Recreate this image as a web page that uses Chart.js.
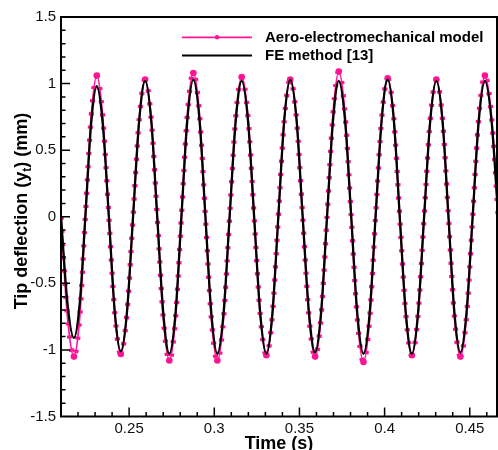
<!DOCTYPE html>
<html>
<head>
<meta charset="utf-8">
<script src="https://cdn.jsdelivr.net/npm/chart.js@4.4.1/dist/chart.umd.min.js"></script>
<style>
  html, body { margin: 0; padding: 0; background: #fff; }
</style>
</head>
<body>
<canvas id="tipChart" width="498" height="450"></canvas>
<script>
// time (s): zero crossings, half-way points and extremes
const time = [
  0.2100, 0.2138, 0.2176,
  0.2210, 0.2243, 0.2277, 0.2310,
  0.2345, 0.2381, 0.2416, 0.2451,
  0.2487, 0.2523, 0.2559, 0.2594,
  0.2630, 0.2665, 0.2701, 0.2736,
  0.2772, 0.2807, 0.2842, 0.2877,
  0.2913, 0.2948, 0.2983, 0.3018,
  0.3054, 0.3090, 0.3126, 0.3161,
  0.3198, 0.3234, 0.3270, 0.3306,
  0.3341, 0.3376, 0.3411, 0.3446,
  0.3483, 0.3519, 0.3556, 0.3592,
  0.3627, 0.3662, 0.3697, 0.3731,
  0.3768, 0.3804, 0.3840, 0.3876,
  0.3912, 0.3947, 0.3983, 0.4018,
  0.4054, 0.4089, 0.4125, 0.4160,
  0.4196, 0.4232, 0.4268, 0.4304,
  0.4340, 0.4375, 0.4410, 0.4445,
  0.4481, 0.4517, 0.4553, 0.4589,
  0.4628, 0.4667, 0.4706
];

// tip deflection (mm)
const aeroModel = [
  0, -0.75, -1.05,
  -0.75, 0, 0.75, 1.06,
  0.75, 0, -0.73, -1.03,
  -0.73, 0, 0.73, 1.03,
  0.73, 0, -0.77, -1.08,
  -0.77, 0, 0.77, 1.08,
  0.77, 0, -0.77, -1.08,
  -0.77, 0, 0.75, 1.05,
  0.75, 0, -0.74, -1.04,
  -0.74, 0, 0.73, 1.03,
  0.73, 0, -0.75, -1.05,
  -0.75, 0, 0.77, 1.09,
  0.77, 0, -0.77, -1.09,
  -0.77, 0, 0.74, 1.04,
  0.74, 0, -0.74, -1.04,
  -0.74, 0, 0.73, 1.03,
  0.73, 0, -0.75, -1.05,
  -0.75, 0, 0.75, 1.06,
  0.75, 0, -0.75
];

const feMethod = [
  0, -0.65, -0.91,
  -0.65, 0, 0.70, 0.98,
  0.70, 0, -0.72, -1.01,
  -0.72, 0, 0.72, 1.02,
  0.72, 0, -0.73, -1.03,
  -0.73, 0, 0.73, 1.03,
  0.73, 0, -0.73, -1.03,
  -0.73, 0, 0.72, 1.02,
  0.72, 0, -0.73, -1.03,
  -0.73, 0, 0.73, 1.03,
  0.73, 0, -0.72, -1.02,
  -0.72, 0, 0.72, 1.02,
  0.72, 0, -0.73, -1.03,
  -0.73, 0, 0.73, 1.03,
  0.73, 0, -0.73, -1.03,
  -0.73, 0, 0.72, 1.02,
  0.72, 0, -0.72, -1.02,
  -0.72, 0, 0.72, 1.02,
  0.72, 0, -0.72
];

const xTicks = [0.25, 0.3, 0.35, 0.4, 0.45];
const yTicks = [-1.5, -1, -0.5, 0, 0.5, 1, 1.5];
const seriesNames = ['Aero-electromechanical model', 'FE method [13]'];

const PINK = '#ff1493';
const FONT = "'Liberation Sans', Arial, Helvetica, sans-serif";

function toPoints(values) {
    return time.map((t, i) => ({ x: t, y: values[i] }));
}

// frame, inward ticks, legend box and axis titles
const decorPlugin = {
    id: 'decor',
    afterDraw(chart) {
        const { ctx, chartArea: a, scales } = chart;
        const xs = scales.x, ys = scales.y;
        ctx.save();
        ctx.strokeStyle = '#000';

        // ticks
        ctx.lineWidth = 1.5;
        ctx.beginPath();
        for (let k = 22; k <= 46; k++) {
            const px = xs.getPixelForValue(k / 100);
            const len = (k % 5 === 0) ? 9 : 4.5;
            ctx.moveTo(px, a.bottom);
            ctx.lineTo(px, a.bottom - len);
        }
        for (let k = -14; k <= 14; k++) {
            const py = ys.getPixelForValue(k / 10);
            const len = (k % 5 === 0) ? 9 : 4.5;
            ctx.moveTo(a.left, py);
            ctx.lineTo(a.left + len, py);
        }
        ctx.stroke();

        // frame
        ctx.lineWidth = 2;
        ctx.strokeRect(a.left, a.top, a.right - a.left, a.bottom - a.top);

        // legend
        const rows = [
            { y: 37.3, color: PINK, width: 1.8, marker: true, text: seriesNames[0] },
            { y: 55.5, color: '#000', width: 2.2, marker: false, text: seriesNames[1] }
        ];
        ctx.font = 'bold 15px ' + FONT;
        ctx.textBaseline = 'middle';
        ctx.textAlign = 'left';
        rows.forEach(r => {
            ctx.strokeStyle = r.color;
            ctx.lineWidth = r.width;
            ctx.beginPath();
            ctx.moveTo(182, r.y);
            ctx.lineTo(252, r.y);
            ctx.stroke();
            if (r.marker) {
                ctx.fillStyle = r.color;
                ctx.beginPath();
                ctx.arc(217, r.y, 2.2, 0, Math.PI * 2);
                ctx.fill();
            }
            ctx.fillStyle = '#000';
            ctx.fillText(r.text, 265, r.y + 0.5);
        });

        // x title
        ctx.font = 'bold 18px ' + FONT;
        ctx.textAlign = 'center';
        ctx.textBaseline = 'alphabetic';
        ctx.fillText('Time (s)', (a.left + a.right) / 2, 449);

        // y title with subscript t
        ctx.translate(27, 211);
        ctx.rotate(-Math.PI / 2);
        const big = 'bold 18px ' + FONT, small = 'bold 12px ' + FONT;
        const p1 = 'Tip deflection (y', p2 = 't', p3 = ') (mm)';
        ctx.font = big;
        const w1 = ctx.measureText(p1).width, w3 = ctx.measureText(p3).width;
        ctx.font = small;
        const w2 = ctx.measureText(p2).width;
        let x0 = -(w1 + w2 + w3) / 2;
        ctx.textAlign = 'left';
        ctx.font = big;
        ctx.fillText(p1, x0, 0);
        ctx.font = small;
        ctx.fillText(p2, x0 + w1, 4);
        ctx.font = big;
        ctx.fillText(p3, x0 + w1 + w2, 0);
        ctx.restore();
    }
};

const ctx = document.getElementById('tipChart').getContext('2d');
const chart = new Chart(ctx, {
    type: 'line',
    data: {
        datasets: [{
            label: seriesNames[1],
            data: toPoints(feMethod),
            borderColor: '#000',
            borderWidth: 2.3,
            pointRadius: 0,
            cubicInterpolationMode: 'monotone'
        }, {
            label: seriesNames[0] + ' markers',
            data: toPoints(aeroModel),
            borderColor: PINK,
            borderWidth: 5.2,
            borderDash: [3.2, 10],
            pointRadius: 0,
            cubicInterpolationMode: 'monotone'
        }, {
            label: seriesNames[0],
            data: toPoints(aeroModel),
            borderColor: PINK,
            borderWidth: 1.8,
            // marker clusters at the extremes
            pointRadius: c => (c.dataIndex % 4 === 2 ? 3.3 : 0),
            pointBackgroundColor: PINK,
            pointBorderWidth: 0,
            cubicInterpolationMode: 'monotone'
        }]
    },
    options: {
        responsive: false,
        animation: false,
        events: [],
        layout: { padding: { top: 17, right: 1, left: 0, bottom: 0 } },
        plugins: { legend: { display: false }, tooltip: { enabled: false } },
        scales: {
            x: {
                type: 'linear',
                min: 0.21,
                max: 0.466,
                afterBuildTicks: s => { s.ticks = xTicks.map(v => ({ value: v })); },
                afterFit: s => { s.height = 33.5; },
                grid: { display: false, drawTicks: false },
                border: { display: false },
                ticks: {
                    color: '#111',
                    font: { family: FONT, size: 15 },
                    padding: 3,
                    maxRotation: 0,
                    autoSkip: false,
                    callback: v => String(v)
                }
            },
            y: {
                type: 'linear',
                min: -1.5,
                max: 1.5,
                afterBuildTicks: s => { s.ticks = yTicks.map(v => ({ value: v })); },
                afterFit: s => { s.width = 61; },
                grid: { display: false, drawTicks: false },
                border: { display: false },
                ticks: {
                    color: '#111',
                    font: { family: FONT, size: 15 },
                    padding: 5,
                    autoSkip: false,
                    callback: v => String(v)
                }
            }
        }
    },
    plugins: [decorPlugin]
});
</script>
</body>
</html>
